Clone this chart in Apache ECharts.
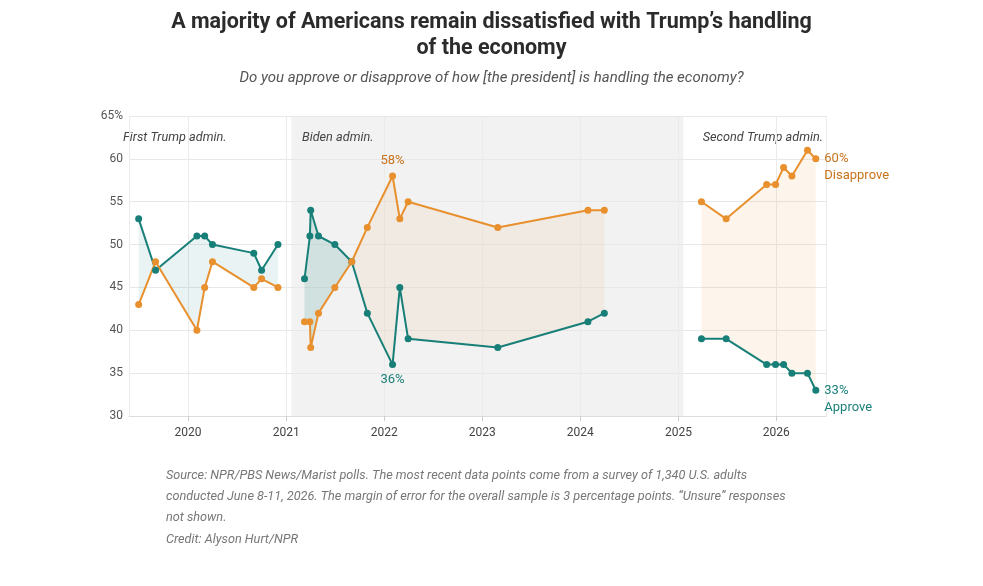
<!DOCTYPE html>
<html>
<head>
<meta charset="utf-8">
<script src="https://cdn.jsdelivr.net/npm/echarts@6/dist/echarts.min.js"></script>
<style>
html,body{margin:0;padding:0;background:#fff;}
#chart{width:983px;height:586px;}
</style>
</head>
<body>
<div id="chart"></div>
<script>
// ---- Data ----
const yTicks = [30, 35, 40, 45, 50, 55, 60, 65];
const years = [2020, 2021, 2022, 2023, 2024, 2025, 2026];

const dates1 = ['2019-07-01','2019-09-02','2020-02-03','2020-03-03','2020-04-01','2020-09-02','2020-10-01','2020-12-01'];
const approve1 = [53, 47, 51, 51, 50, 49, 47, 50];
const disapprove1 = [43, 48, 40, 45, 48, 45, 46, 45];

const dates2 = ['2021-03-10','2021-03-30','2021-04-02','2021-05-01','2021-07-01','2021-09-02','2021-10-30','2022-02-01','2022-02-28','2022-03-31','2023-02-28','2024-01-30','2024-03-31'];
const approve2 = [46, 51, 54, 51, 50, 48, 42, 36, 45, 39, 38, 41, 42];
const disapprove2 = [41, 41, 38, 42, 45, 48, 52, 58, 53, 55, 52, 54, 54];

const dates3 = ['2025-03-28','2025-06-28','2025-11-26','2025-12-29','2026-01-28','2026-02-28','2026-04-27','2026-05-28'];
const approve3 = [39, 39, 36, 36, 36, 35, 35, 33];
const disapprove3 = [55, 53, 57, 57, 59, 58, 61, 60];

const bidenStart = '2021-01-20';
const bidenEnd = '2025-01-20';
const axisStart = '2019-05-26';
const axisEnd = '2026-07-05';

// ---- Helpers ----
function ms(s){ const p = s.split('-').map(Number); return new Date(p[0], p[1]-1, p[2]).getTime(); }

const TEAL = '#177f78';
const ORANGE = '#e8902d';
const TEAL_TXT = '#1a7f78';
const ORANGE_TXT = '#c8731b';

function buildRegions(dates, a, b, posColor, negColor){
  const t = dates.map(ms);
  const n = t.length;
  const out = [];
  let cur = [[t[0], a[0], b[0]]];
  for (let i = 0; i < n - 1; i++){
    const d0 = a[i] - b[i], d1 = a[i+1] - b[i+1];
    if (d0 * d1 < 0){
      const f = d0 / (d0 - d1);
      const tc = t[i] + f * (t[i+1] - t[i]);
      const vc = a[i] + f * (a[i+1] - a[i]);
      cur.push([tc, vc, vc]);
      out.push(cur);
      cur = [[tc, vc, vc]];
    }
    cur.push([t[i+1], a[i+1], b[i+1]]);
    if (d1 === 0 && i + 1 < n - 1){
      out.push(cur);
      cur = [[t[i+1], a[i+1], b[i+1]]];
    }
  }
  out.push(cur);
  return out.filter(r => r.length > 1).map(r => {
    let s = 0; r.forEach(p => s += p[1] - p[2]);
    return {
      color: s >= 0 ? posColor : negColor,
      pts: r.map(p => [p[0], p[1]]).concat(r.slice().reverse().map(p => [p[0], p[2]]))
    };
  });
}

const regions = []
  .concat(buildRegions(dates1, approve1, disapprove1, 'rgba(21,127,120,0.09)', 'rgba(232,146,47,0.09)'))
  .concat(buildRegions(dates2, approve2, disapprove2, 'rgba(21,127,120,0.15)', 'rgba(232,146,47,0.08)'))
  .concat(buildRegions(dates3, approve3, disapprove3, 'rgba(21,127,120,0.09)', 'rgba(232,146,47,0.09)'));

function lineSeries(dates, vals, color, labels){
  return {
    type: 'line',
    z: 3,
    data: dates.map((d, i) => {
      const item = { value: [ms(d), vals[i]] };
      if (labels && labels[i]) item.label = labels[i];
      return item;
    }),
    symbol: 'circle',
    symbolSize: 7,
    showSymbol: true,
    lineStyle: { color: color, width: 2 },
    itemStyle: { color: color },
    emphasis: { disabled: true },
    animation: false
  };
}

const labelFont = { fontFamily: 'Roboto', fontSize: 13 };

const approve2Labels = approve2.map((v, i) => v === Math.min(...approve2) ? {
  show: true, position: 'bottom', distance: 5, formatter: v + '%', color: TEAL_TXT, ...labelFont
} : null);
const disapprove2Labels = disapprove2.map((v, i) => v === Math.max(...disapprove2) ? {
  show: true, position: 'top', distance: 5, formatter: v + '%', color: ORANGE_TXT, ...labelFont
} : null);
const approve3Labels = approve3.map((v, i) => i === approve3.length - 1 ? {
  show: true, position: 'right', distance: 5, formatter: v + '%\nApprove', color: TEAL_TXT,
  lineHeight: 17, align: 'left', offset: [0, 8.5], ...labelFont
} : null);
const disapprove3Labels = disapprove3.map((v, i) => i === disapprove3.length - 1 ? {
  show: true, position: 'right', distance: 5, formatter: v + '%\nDisapprove', color: ORANGE_TXT,
  lineHeight: 17, align: 'left', offset: [0, 8.5], ...labelFont
} : null);

const chart = echarts.init(document.getElementById('chart'), null, { renderer: 'canvas' });

const option = {
  animation: false,
  backgroundColor: '#fff',
  grid: { left: 129, right: 157, top: 116, bottom: 170, containLabel: false },
  xAxis: {
    type: 'time',
    min: ms(axisStart),
    max: ms(axisEnd),
    splitNumber: 7,
    minInterval: 365 * 24 * 3600 * 1000,
    axisLine: { show: true, lineStyle: { color: '#dddddd', width: 1 } },
    axisTick: { show: true, length: 5, lineStyle: { color: '#cccccc' } },
    axisLabel: {
      color: '#444', fontFamily: 'Roboto', fontSize: 12, margin: 11,
      formatter: function(v){ return String(new Date(v).getFullYear()); },
      hideOverlap: false
    },
    splitLine: { show: true, lineStyle: { color: '#ebebeb', width: 1 } }
  },
  yAxis: {
    type: 'value',
    min: yTicks[0],
    max: yTicks[yTicks.length - 1],
    interval: 5,
    axisLine: { show: false },
    axisTick: { show: false },
    axisLabel: {
      color: '#555', fontFamily: 'Roboto', fontSize: 12, margin: 6,
      formatter: function(v){ return v === yTicks[yTicks.length - 1] ? v + '%' : String(v); }
    },
    splitLine: { show: true, lineStyle: { color: '#e8e8e8', width: 1 } }
  },
  series: [
    {
      type: 'custom',
      z: -1,
      silent: true,
      data: [[ms(bidenStart), yTicks[yTicks.length - 1], ms(bidenEnd), yTicks[0]]],
      renderItem: function(params, api){
        const p0 = api.coord([api.value(0), api.value(1)]);
        const p1 = api.coord([api.value(2), api.value(3)]);
        return { type: 'rect', shape: { x: p0[0], y: p0[1], width: p1[0] - p0[0], height: p1[1] - p0[1] }, style: { fill: '#f2f2f2' } };
      },
      encode: { x: [0, 2], y: [1, 3] }
    },
    {
      type: 'custom',
      z: 1,
      silent: true,
      data: regions.map((r, i) => [r.pts[0][0], r.pts[0][1], i]),
      renderItem: function(params, api){
        const r = regions[params.dataIndex];
        const pts = r.pts.map(p => api.coord(p));
        return { type: 'polygon', shape: { points: pts }, style: { fill: r.color } };
      }
    },
    lineSeries(dates1, approve1, TEAL),
    lineSeries(dates1, disapprove1, ORANGE),
    lineSeries(dates2, approve2, TEAL, approve2Labels),
    lineSeries(dates2, disapprove2, ORANGE, disapprove2Labels),
    lineSeries(dates3, approve3, TEAL, approve3Labels),
    lineSeries(dates3, disapprove3, ORANGE, disapprove3Labels)
  ],
  graphic: [
    { type: 'text', left: 'center', top: 10, style: {
      text: 'A majority of Americans remain dissatisfied with Trump\u2019s handling\nof the economy',
      fill: '#2b2b2b', font: 'bold 21.5px Roboto', lineHeight: 26, textAlign: 'center' } },
    { type: 'text', left: 'center', top: 71, style: {
      text: 'Do you approve or disapprove of how [the president] is handling the economy?',
      fill: '#555', font: 'italic 15px Roboto' } },
    { type: 'text', left: 123, top: 131, style: { text: 'First Trump admin.', fill: '#444', font: 'italic 12.7px Roboto' } },
    { type: 'text', left: 302, top: 131, style: { text: 'Biden admin.', fill: '#444', font: 'italic 12.7px Roboto' } },
    { type: 'text', right: 160, top: 131, style: { text: 'Second Trump admin.', fill: '#444', font: 'italic 12.7px Roboto' } },
    { type: 'text', left: 166, top: 465, style: {
      text: 'Source: NPR/PBS News/Marist polls. The most recent data points come from a survey of 1,340 U.S. adults\nconducted June 8-11, 2026. The margin of error for the overall sample is 3 percentage points. \u201cUnsure\u201d responses\nnot shown.',
      fill: '#777', font: 'italic 12.7px Roboto', lineHeight: 21 } },
    { type: 'text', left: 166, top: 533, style: { text: 'Credit: Alyson Hurt/NPR', fill: '#777', font: 'italic 12.7px Roboto' } }
  ]
};

chart.setOption(option);
</script>
</body>
</html>
